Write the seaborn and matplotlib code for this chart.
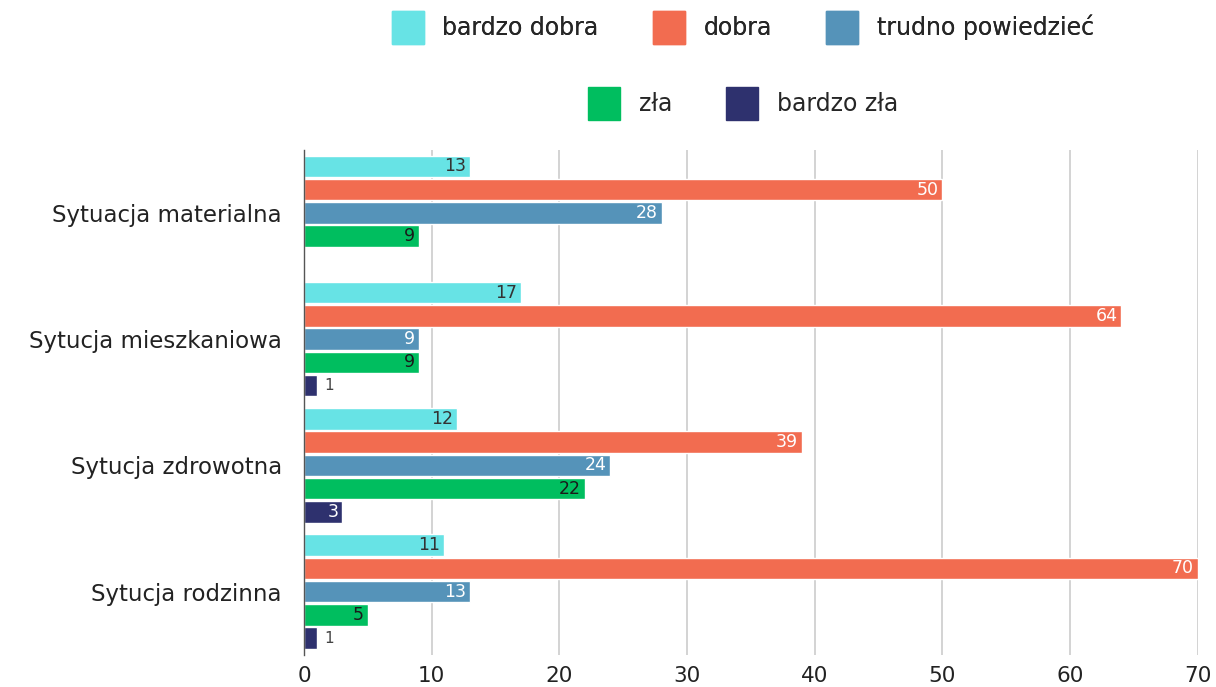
import pandas as pd
import numpy as np
import seaborn as sns
import matplotlib.pyplot as plt
from matplotlib.patches import Patch

# Data
kategorie = ['Sytuacja materialna', 'Sytucja mieszkaniowa', 'Sytucja zdrowotna', 'Sytucja rodzinna']
oceny = ['bardzo dobra', 'dobra', 'trudno powiedzieć', 'zła', 'bardzo zła']
bardzo_dobra = [13, 17, 12, 11]
dobra = [50, 64, 39, 70]
trudno = [28, 9, 24, 13]
zla = [9, 9, 22, 5]
bardzo_zla = [0, 1, 3, 1]

kolory = ['#67E3E5', '#F26C50', '#5593B9', '#00BE5F', '#2E316E']
kolory_tekstu = ['#333333', 'white', 'white', '#1a1a1a', 'white']

serie = [bardzo_dobra, dobra, trudno, zla, bardzo_zla]
rows = []
for ocena, vals in zip(oceny, serie):
    for kat, v in zip(kategorie, vals):
        rows.append({'kategoria': kat, 'ocena': ocena, 'wartosc': v})
df = pd.DataFrame(rows)

sns.set_style('white')
plt.rcParams['font.family'] = ['DejaVu Sans']

fig = plt.figure(figsize=(12.16, 6.87), dpi=100)
ax = fig.add_axes([0.25, 0.047, 0.735, 0.735])

sns.barplot(data=df, y='kategoria', x='wartosc', hue='ocena', order=kategorie,
            hue_order=oceny, palette=kolory, saturation=1, orient='h', width=0.92,
            gap=0.07, legend=False, ax=ax)

# value labels
for cont, kol_txt in zip(ax.containers, kolory_tekstu):
    for p in cont.patches:
        w = p.get_width()
        if w <= 0:
            continue
        yc = p.get_y() + p.get_height() / 2
        if w >= 2:
            ax.text(w - 0.3, yc, f'{int(w)}', ha='right', va='center',
                    color=kol_txt, fontsize=12.5)
        else:
            ax.text(w + 0.6, yc, f'{int(w)}', ha='left', va='center',
                    color='#444444', fontsize=11)

ax.set_xlim(0, 70)
ax.set_ylim(3.5, -0.5)
ax.set_xticks(range(0, 71, 10))
ax.xaxis.grid(True, color='#d0d0d0', linewidth=1.3)
ax.set_axisbelow(True)
for s in ['top', 'right', 'bottom']:
    ax.spines[s].set_visible(False)
ax.spines['left'].set_color('#555555')
ax.spines['left'].set_linewidth(1.0)
ax.set_xlabel('')
ax.set_ylabel('')
ax.tick_params(axis='x', labelsize=15.5, length=0, pad=8, labelcolor='#222222')
ax.tick_params(axis='y', labelsize=16.5, length=0, pad=16, labelcolor='#222222')

# legend in two centred rows
uchwyty = [Patch(facecolor=c, edgecolor=c) for c in kolory]
leg1 = fig.legend(uchwyty[:3], oceny[:3], loc='center', bbox_to_anchor=(0.611, 0.96),
                  ncol=3, frameon=False, fontsize=17, handlelength=1.35, handleheight=1.8,
                  handletextpad=0.8, columnspacing=2.3)
leg2 = fig.legend(uchwyty[3:], oceny[3:], loc='center', bbox_to_anchor=(0.611, 0.849),
                  ncol=2, frameon=False, fontsize=17, handlelength=1.35, handleheight=1.8,
                  handletextpad=0.8, columnspacing=2.3)
fig.add_artist(leg1)

fig.savefig('out.png', dpi=100)
plt.close()
